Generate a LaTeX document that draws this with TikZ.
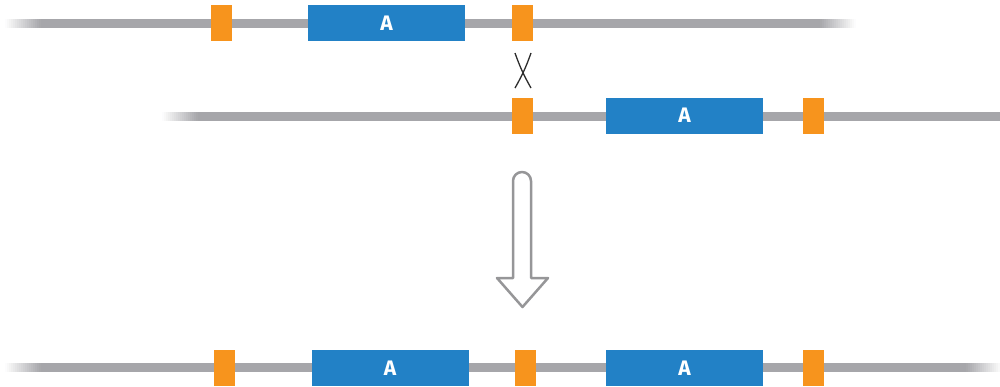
\documentclass[tikz,border=0pt]{standalone}
\usepackage{fontspec}
\setsansfont{Fira Sans}
\definecolor{linegrey}{RGB}{166,166,170}
\definecolor{orangeA}{RGB}{247,148,29}
\definecolor{blueA}{RGB}{34,129,198}
\definecolor{arrowgrey}{RGB}{150,150,152}
\definecolor{crossgrey}{RGB}{45,45,45}
\tikzset{
  genebox/.style={fill=blueA, draw=none, minimum width=157pt, minimum height=36pt, inner sep=0pt, text=white, font=\sffamily\bfseries\fontsize{21}{21}\selectfont},
  sitebox/.style={fill=orangeA, draw=none, minimum width=21pt, minimum height=36pt, inner sep=0pt},
  crossline/.style={draw=crossgrey, line width=1.3pt},
  bigarrow/.style={draw=arrowgrey, fill=white, line width=2.5pt, line join=round},
}
% fade-in (left) and fade-out (right) bar pieces: #1 x start, #2 y centre
\newcommand{\fadeleft}[2]{%
  \foreach \i in {0,...,17}{%
    \pgfmathsetmacro{\pc}{(\i+0.5)*100/18}%
    \fill[linegrey!\pc!white] ({#1+\i*2},{#2-4.5}) rectangle ({#1+\i*2+2.2},{#2+4.5});
  }}
\newcommand{\faderight}[2]{%
  \foreach \i in {0,...,17}{%
    \pgfmathsetmacro{\pc}{100-(\i+0.5)*100/18}%
    \fill[linegrey!\pc!white] ({#1+\i*2},{#2-4.5}) rectangle ({#1+\i*2+2.2},{#2+4.5});
  }}
\begin{document}
\begin{tikzpicture}[x=1pt,y=-1pt]
\useasboundingbox (0,0) rectangle (1000,386);
% row 1 line
\fadeleft{5}{23}
\fill[linegrey] (40.5,18.5) rectangle (820.5,27.5);
\faderight{820}{23}
% row 2 line
\fadeleft{162}{116}
\fill[linegrey] (197.5,111.5) rectangle (1000,120.5);
% row 3 line
\fadeleft{5}{367}
\fill[linegrey] (40.5,362.5) rectangle (966.5,371.5);
\faderight{966}{367}
% row 1 boxes
\node[sitebox] (s11) at (221.5,23) {};
\node[genebox] (g11) at (386.5,23) {A};
\node[sitebox] (s12) at (522,23) {};
% row 2 boxes
\node[sitebox] (s21) at (522.5,115.5) {};
\node[genebox] (g21) at (684.5,115.5) {A};
\node[sitebox] (s22) at (813.5,115.5) {};
% row 3 boxes
\node[sitebox] (s31) at (224,368) {};
\node[genebox] (g31) at (390,368) {A};
\node[sitebox] (s32) at (525.5,368) {};
\node[genebox] (g32) at (684.5,368) {A};
\node[sitebox] (s33) at (813.5,368) {};
% crossover
\coordinate (xa) at (515,53);
\coordinate (xb) at (531,53);
\coordinate (xc) at (515,88);
\coordinate (xd) at (531,88);
\draw[crossline] (xa) to[bend right=5] (xd);
\draw[crossline] (xb) to[bend left=5] (xc);
% big arrow
\draw[bigarrow] (513,278) -- (513,181) arc[start angle=180, end angle=0, radius=9pt] -- (531,278) -- (548,278) -- (522.5,307) -- (497,278) -- cycle;
\end{tikzpicture}
\end{document}
